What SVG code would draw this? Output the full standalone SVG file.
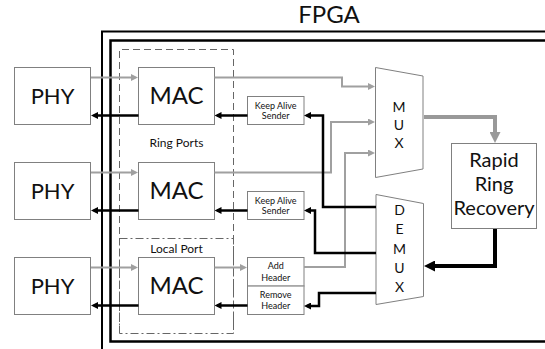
<svg xmlns="http://www.w3.org/2000/svg" width="545" height="349" viewBox="0 0 545 349">
<style>
text{font-family:Lato,"Open Sans","Liberation Sans",sans-serif;fill:#111;text-anchor:middle}
.box{fill:#fff;stroke:#808080;stroke-width:1}
.g{fill:none;stroke:#a0a0a0;stroke-width:2}
.b{fill:none;stroke:#000;stroke-width:2.5}
.frame{fill:none;stroke:#000}
.big{font-size:24px}
.phy{font-size:22px}
.sm{font-size:12px}
.xs{font-size:9px}
.mx{font-size:14px}
.rr{font-size:20px}
</style>
<defs>
<marker id="ag" viewBox="0 0 10 10" refX="6" refY="5" markerWidth="7" markerHeight="7" markerUnits="userSpaceOnUse" orient="auto"><path d="M0,0 L10,5 L0,10 z" fill="#a0a0a0"/></marker>
<marker id="ab" viewBox="0 0 10 10" refX="6" refY="5" markerWidth="7" markerHeight="7" markerUnits="userSpaceOnUse" orient="auto"><path d="M0,0 L10,5 L0,10 z" fill="#000"/></marker>
<marker id="agB" viewBox="0 0 10 10" refX="6" refY="5" markerWidth="11" markerHeight="11" markerUnits="userSpaceOnUse" orient="auto"><path d="M0,0 L10,5 L0,10 z" fill="#999"/></marker>
<marker id="abB" viewBox="0 0 10 10" refX="6" refY="5" markerWidth="11" markerHeight="11" markerUnits="userSpaceOnUse" orient="auto"><path d="M0,0 L10,5 L0,10 z" fill="#000"/></marker>
</defs>

<g id="fpga">
<path class="frame" stroke-width="2" d="M102,349 V31.5 H545"/>
<path class="frame" stroke-width="2.5" d="M545,40.5 H110.5 V341.5 H545"/>
<text class="big" x="329" y="22.5">FPGA</text>
</g>

<g id="ring-ports">
<path d="M119.5,333 V49.5 H233.5 V333" fill="none" stroke="#666" stroke-width="1" stroke-dasharray="7,4"/>
<text class="sm" x="176.5" y="147">Ring Ports</text>
</g>
<g id="local-port">
<rect x="119.5" y="238.5" width="114" height="95" fill="none" stroke="#666" stroke-width="1" stroke-dasharray="8,3,2,3"/>
<text class="sm" x="176.5" y="252.5">Local Port</text>
</g>

<g id="phy1"><rect class="box" x="14.5" y="67.5" width="76" height="57"/><text class="phy" x="52.5" y="103.5">PHY</text></g>
<g id="phy2"><rect class="box" x="14.5" y="162.5" width="76" height="57"/><text class="phy" x="52.5" y="198.5">PHY</text></g>
<g id="phy3"><rect class="box" x="14.5" y="257.5" width="76" height="57"/><text class="phy" x="52.5" y="293.5">PHY</text></g>

<g id="mac1"><rect class="box" x="138.5" y="67.5" width="76" height="57"/><text class="big" x="176.5" y="104">MAC</text></g>
<g id="mac2"><rect class="box" x="138.5" y="162.5" width="76" height="57"/><text class="big" x="176.5" y="199">MAC</text></g>
<g id="mac3"><rect class="box" x="138.5" y="257.5" width="76" height="57"/><text class="big" x="176.5" y="294">MAC</text></g>

<g id="keepalive1"><rect class="box" x="247.5" y="96.5" width="56.5" height="28"/><text class="xs" x="275.7" y="108.5">Keep Alive</text><text class="xs" x="275.7" y="118.8">Sender</text></g>
<g id="keepalive2"><rect class="box" x="247.5" y="191.5" width="56.5" height="28"/><text class="xs" x="275.7" y="203.5">Keep Alive</text><text class="xs" x="275.7" y="213.8">Sender</text></g>
<g id="add-header"><rect class="box" x="247.5" y="257.5" width="56.5" height="28.5"/><text class="xs" x="275.7" y="269">Add</text><text class="xs" x="275.7" y="280.5">Header</text></g>
<g id="remove-header"><rect class="box" x="247.5" y="286" width="56.5" height="28.5"/><line x1="248" y1="286" x2="303.5" y2="286" stroke="#b0b0b0" stroke-width="1"/><text class="xs" x="275.7" y="297.5">Remove</text><text class="xs" x="275.7" y="309">Header</text></g>

<g id="mux"><path class="box" d="M375.5,67.5 L423,76 V169 L375.5,177.5 z"/><text class="mx" x="399" y="111.5">M</text><text class="mx" x="399" y="129.5">U</text><text class="mx" x="399" y="147.5">X</text></g>
<g id="demux"><path class="box" d="M376,194.5 L423.5,203.5 V296.5 L376,304.5 z"/><text class="mx" x="399.5" y="215">D</text><text class="mx" x="399.5" y="234.3">E</text><text class="mx" x="399.5" y="253.6">M</text><text class="mx" x="399.5" y="272.9">U</text><text class="mx" x="399.5" y="292.2">X</text></g>
<g id="rapid-ring-recovery"><rect class="box" x="451.5" y="143.5" width="85" height="85"/><text class="rr" x="494" y="166.5">Rapid</text><text class="rr" x="494" y="190.5">Ring</text><text class="rr" x="494" y="215">Recovery</text></g>

<g id="connectors">
<path class="g" marker-end="url(#ag)" d="M91,77.5 H135.2"/>
<path class="g" marker-end="url(#ag)" d="M91,172.5 H135.2"/>
<path class="g" marker-end="url(#ag)" d="M91,267.5 H135.2"/>
<path class="g" marker-end="url(#ag)" d="M214.5,267.5 H244.2"/>
<path class="g" marker-end="url(#ag)" d="M214.5,77.5 H342 V86.5 H372.2"/>
<path class="g" marker-end="url(#ag)" d="M214.5,172.5 H331 V122 H372.2"/>
<path class="g" marker-end="url(#ag)" d="M304,267 H345 V153 H372.2"/>
<path fill="none" stroke="#999" stroke-width="4" marker-end="url(#agB)" d="M424,117 H495 V138.6"/>

<path class="b" marker-end="url(#ab)" d="M138.5,115.5 H93.8"/>
<path class="b" marker-end="url(#ab)" d="M138.5,210.5 H93.8"/>
<path class="b" marker-end="url(#ab)" d="M138.5,305.5 H93.8"/>
<path class="b" marker-end="url(#ab)" d="M247.5,115.5 H217.3"/>
<path class="b" marker-end="url(#ab)" d="M247.5,210.5 H217.3"/>
<path class="b" marker-end="url(#ab)" d="M247.5,305.5 H217.3"/>
<path class="b" marker-end="url(#ab)" d="M376,207 H323 V115.5 H306.8"/>
<path class="b" marker-end="url(#ab)" d="M376,253 H315 V210.5 H306.8"/>
<path class="b" marker-end="url(#ab)" d="M376,293 H319 V306 H306.8"/>
<path fill="none" stroke="#000" stroke-width="4" marker-end="url(#abB)" d="M495,229 V266 H428.4"/>
</g>
</svg>
